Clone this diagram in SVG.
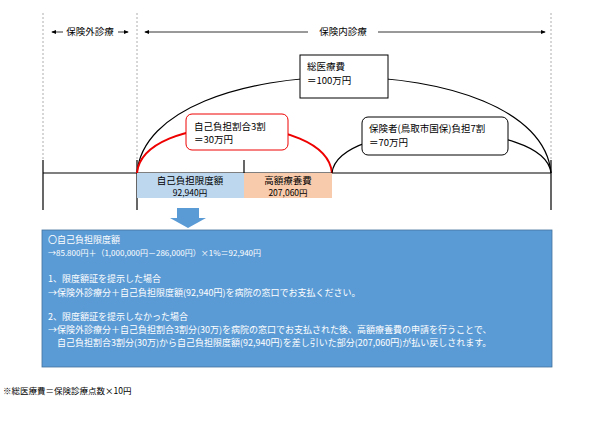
<svg xmlns="http://www.w3.org/2000/svg" width="600" height="422" viewBox="0 0 600 422">
<style>
text{font-family:"Noto Sans CJK JP","Liberation Sans",sans-serif;font-size:9.5px;fill:#000}
.w{fill:#fff;font-size:9px}
.d{stroke:#999;stroke-width:0.8;stroke-dasharray:2,2}
.l{stroke:#000;stroke-width:1.2;fill:none}
</style>
<defs><marker id="a" markerWidth="6" markerHeight="6" refX="5" refY="3" orient="auto"><path d="M0,0.5L6,3L0,5.5z" fill="#000"/></marker></defs>
<rect width="600" height="422" fill="#fff"/>
<g id="connectors">
<line class="d" x1="43" y1="13" x2="43" y2="160"/>
<line class="d" x1="137" y1="13" x2="137" y2="160"/>
<line class="d" x1="551" y1="13" x2="551" y2="160"/>
<line x1="63" y1="32" x2="52" y2="32" stroke="#000" stroke-width="0.8" marker-end="url(#a)"/>
<line x1="118" y1="32" x2="128" y2="32" stroke="#000" stroke-width="0.8" marker-end="url(#a)"/>
<line x1="308" y1="32" x2="145" y2="32" stroke="#000" stroke-width="0.8" marker-end="url(#a)"/>
<line x1="378" y1="32" x2="545" y2="32" stroke="#000" stroke-width="0.8" marker-end="url(#a)"/>
<line class="l" x1="43" y1="173" x2="551" y2="173"/>
<line class="l" x1="43" y1="160" x2="43" y2="210"/>
<line class="l" x1="137" y1="160" x2="137" y2="210"/>
<line class="l" x1="551" y1="160" x2="551" y2="210"/>
<line class="l" x1="244" y1="160" x2="244" y2="173"/>
<path class="l" d="M137,173 C148,45 540,45 551,173"/>
<path d="M137,173 C143,112 326,112 332,173" fill="none" stroke="#e00" stroke-width="2"/>
<path class="l" d="M332,173 C338,118 545,118 551,173"/>
<path d="M177,208h22v10h7l-18,10l-18,-10h7z" fill="#5b9bd5"/>
</g>
<g id="labels"><text x="90" y="35" text-anchor="middle">保険外診療</text><text x="343" y="35" text-anchor="middle">保険内診療</text></g>
<g id="total"><rect x="300" y="55" width="88" height="43" fill="#fff" stroke="#000" stroke-width="1"/><text x="307" y="70">総医療費</text><text x="307" y="84">＝100万円</text></g>
<g id="self"><rect x="186" y="114" width="102" height="36" rx="6" fill="#fff" stroke="#e00" stroke-width="1"/><text x="194" y="130">自己負担割合3割</text><text x="194" y="143">＝30万円</text></g>
<g id="insurer"><rect x="362" y="117" width="146" height="38" rx="6" fill="#fff" stroke="#000" stroke-width="1"/><text x="369" y="132">保険者(鳥取市国保)負担7割</text><text x="369" y="146">＝70万円</text></g>
<g id="limit"><rect x="137" y="173" width="107" height="25" fill="#bdd7ee"/><text x="190" y="184" text-anchor="middle">自己負担限度額</text><text x="190" y="196" text-anchor="middle" style="font-size:8.5px">92,940円</text></g>
<g id="high"><rect x="244" y="173" width="88" height="25" fill="#f8cbad"/><text x="288" y="184" text-anchor="middle">高額療養費</text><text x="288" y="196" text-anchor="middle" style="font-size:8.5px">207,060円</text></g>
<g id="info"><rect x="42" y="230" width="510" height="137" fill="#5b9bd5" stroke="#41719c" stroke-width="0.8"/>
<text class="w" x="48" y="243">〇自己負担限度額</text>
<text class="w" x="48" y="256" style="font-size:8px">→85.800円＋（1,000,000円－286,000円）×1%＝92,940円</text>
<text class="w" x="48" y="282">1、限度額証を提示した場合</text>
<text class="w" x="48" y="296">→保険外診療分＋自己負担限度額(92,940円)を病院の窓口でお支払ください。</text>
<text class="w" x="48" y="320">2、限度額証を提示しなかった場合</text>
<text class="w" x="48" y="333">→保険外診療分＋自己負担割合3割分(30万)を病院の窓口でお支払された後、高額療養費の申請を行うことで、</text>
<text class="w" x="57" y="346">自己負担割合3割分(30万)から自己負担限度額(92,940円)を差し引いた部分(207,060円)が払い戻しされます。</text>
</g>
<g id="note"><text x="3" y="394" style="font-size:8.5px">※総医療費＝保険診療点数×10円</text></g>
</svg>
